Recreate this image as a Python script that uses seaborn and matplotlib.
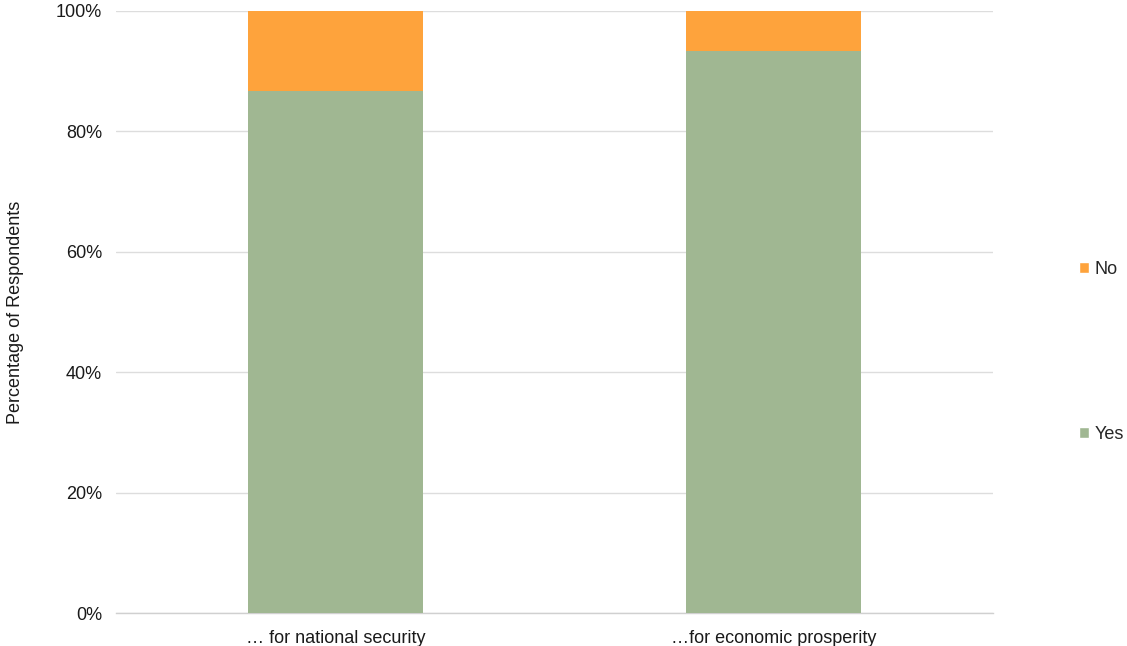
import matplotlib
matplotlib.use("Agg")
import matplotlib.pyplot as plt
from matplotlib.patches import Patch
from matplotlib.ticker import PercentFormatter
import seaborn as sns
import pandas as pd

categories = ["… for national security", "…for economic prosperity"]
yes_pct = [86.7, 93.3]
no_pct = [13.3, 6.7]

yes_color = "#A0B792"
no_color = "#FEA33C"

sns.set_theme(style="white")
plt.rcParams["font.family"] = ["Liberation Sans", "DejaVu Sans"]

df = pd.DataFrame({"category": categories, "Yes": yes_pct, "No": no_pct})
df["total"] = df["Yes"] + df["No"]

fig = plt.figure(figsize=(11.27, 6.46), dpi=100)
ax = fig.add_axes([0.103, 0.051, 0.778, 0.932])

# stacked bars: full height in the "No" colour, "Yes" drawn over it
sns.barplot(data=df, x="category", y="total", color=no_color, width=0.4,
            saturation=1, linewidth=0, ax=ax, zorder=2)
sns.barplot(data=df, x="category", y="Yes", color=yes_color, width=0.4,
            saturation=1, linewidth=0, ax=ax, zorder=3)

ax.set_ylim(0, 100)
ax.set_yticks(range(0, 101, 20))
ax.yaxis.set_major_formatter(PercentFormatter(decimals=0))
ax.grid(axis="y", color="#DDDDDD", linewidth=1, zorder=0)
ax.set_axisbelow(True)
for s in ax.spines.values():
    s.set_visible(False)
ax.spines["bottom"].set_visible(True)
ax.spines["bottom"].set_color("#D0D0D0")
ax.spines["bottom"].set_linewidth(1)
ax.set_xlabel("")
ax.set_ylabel("Percentage of Respondents", fontsize=13, color="#1A1A1A", labelpad=23)
ax.tick_params(axis="both", labelsize=13, colors="#1A1A1A", length=0)
ax.tick_params(axis="y", pad=10)
ax.tick_params(axis="x", pad=12)

handles = [Patch(facecolor=no_color, label="No"), Patch(facecolor=yes_color, label="Yes")]
fig.legend(handles=handles, loc="center left", bbox_to_anchor=(0.951, 0.455),
           frameon=False, fontsize=13, handlelength=0.55, handleheight=0.55,
           handletextpad=0.3, labelspacing=8.2, borderaxespad=0)

fig.savefig("out.png", dpi=100)
